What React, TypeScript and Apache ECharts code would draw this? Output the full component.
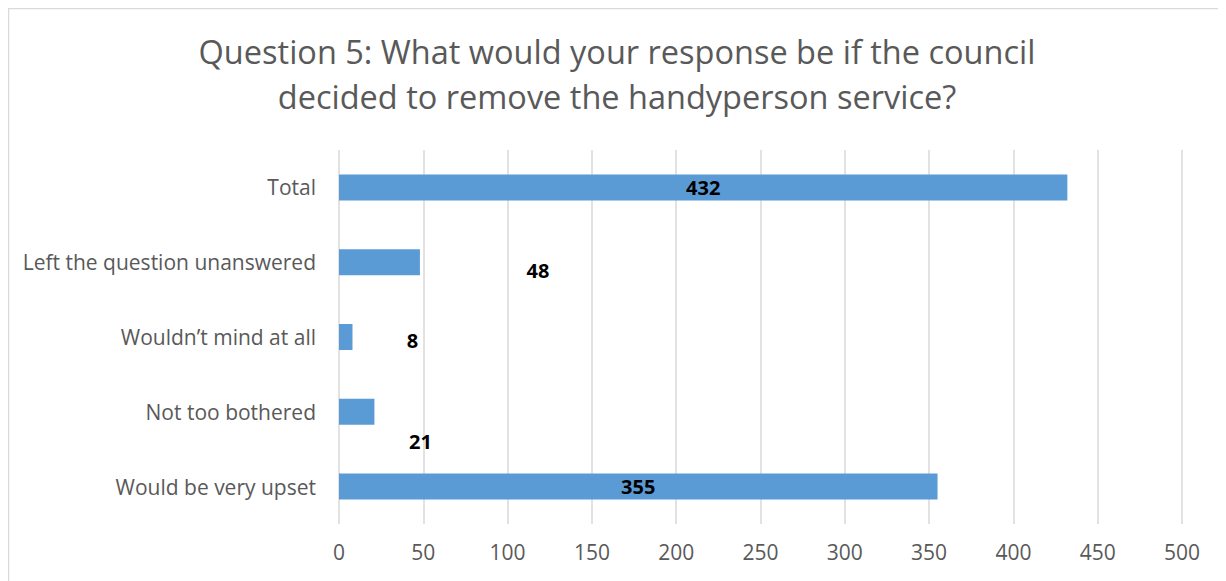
import React, { useEffect, useRef } from "react";
import * as echarts from "echarts";

const categories = [
  "Total",
  "Left the question unanswered",
  "Wouldn\u2019t mind at all",
  "Not too bothered",
  "Would be very upset",
];
const values = [432, 48, 8, 21, 355];
const xTicks = { min: 0, max: 500, interval: 50 };
const titleText =
  "Question 5: What would your response be if the council\ndecided to remove the handyperson service?";

const FONT = "'Open Sans', Lato, sans-serif";

// label placement styling (per category index), mimicking manually moved labels
const labelStyles: Record<number, any> = {
  0: { position: "inside" },
  1: { position: "right", align: "center", distance: 0, offset: [118, 8] },
  2: { position: "right", align: "center", distance: 0, offset: [60, 3] },
  3: { position: "right", align: "center", distance: 0, offset: [46, 30] },
  4: { position: "inside" },
};

export default function App() {
  const ref = useRef<HTMLDivElement>(null);
  useEffect(() => {
    if (!ref.current) return;
    const chart = echarts.init(ref.current, undefined, { renderer: "svg" });
    chart.setOption({
      animation: false,
      backgroundColor: "#ffffff",
      textStyle: { fontFamily: FONT },
      title: {
        text: titleText,
        left: "center",
        top: 16,
        textStyle: {
          fontFamily: FONT,
          fontSize: 32.5,
          fontWeight: "normal",
          color: "#595959",
          lineHeight: 45,
        },
      },
      graphic: [
        { type: "line", shape: { x1: 0.5, y1: 0, x2: 0.5, y2: 600 }, style: { stroke: "#d9d9d9", lineWidth: 1.5 } },
        { type: "line", shape: { x1: 0, y1: 0.5, x2: 1300, y2: 0.5 }, style: { stroke: "#d9d9d9", lineWidth: 1.5 } },
      ],
      grid: { left: 331, right: 44, top: 142, bottom: 57 },
      xAxis: {
        type: "value",
        min: xTicks.min,
        max: xTicks.max,
        interval: xTicks.interval,
        axisLine: { show: false },
        axisTick: { show: false },
        axisLabel: { color: "#595959", fontSize: 21, margin: 17, fontFamily: FONT },
        splitLine: { show: true, lineStyle: { color: "#d9d9d9", width: 1.5 } },
      },
      yAxis: {
        type: "category",
        inverse: true,
        data: categories,
        axisLine: { show: false },
        axisTick: { show: false },
        axisLabel: { color: "#595959", fontSize: 21, margin: 23, fontFamily: FONT },
      },
      series: [
        {
          type: "bar",
          barWidth: 26,
          itemStyle: { color: "#5b9bd5" },
          data: values.map((v, i) => ({
            value: v,
            label: {
              show: true,
              color: "#000000",
              fontWeight: "bold",
              fontSize: 20,
              fontFamily: FONT,
              ...labelStyles[i],
            },
          })),
        },
      ],
    });
    return () => chart.dispose();
  }, []);
  return <div ref={ref} style={{ width: 1218, height: 573 }} />;
}
